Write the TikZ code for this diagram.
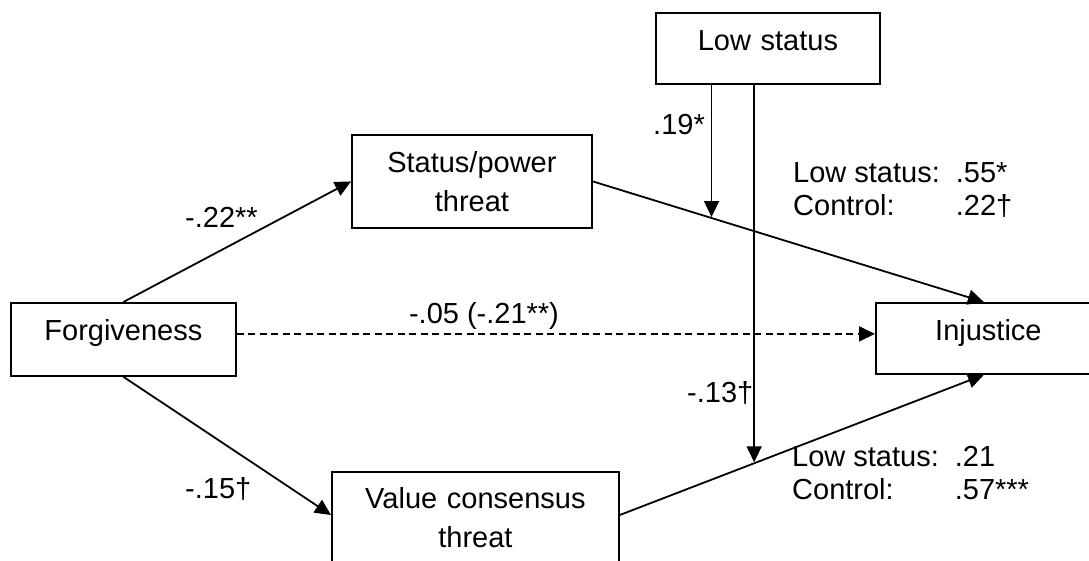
\documentclass[tikz,border=0pt]{standalone}
\usepackage{fontspec}
\setmainfont{Liberation Sans}
\usetikzlibrary{arrows.meta,calc}
\begin{document}
\begin{tikzpicture}[x=1pt,y=-1pt,
  font=\fontsize{29}{39}\selectfont,
  box/.style={draw, line width=1.8pt, inner sep=0pt, align=center, anchor=north west},
  arr/.style={line width=1.8pt, -{Triangle[length=16pt,width=15pt]}},
  dashline/.style={line width=1.8pt, dash pattern=on 7pt off 4.5pt},
  lbl/.style={anchor=base west, inner sep=0pt},
  tab/.style={anchor=base west, inner sep=0pt, font=\fontsize{29}{33}\selectfont}]
\useasboundingbox (0,0) rectangle (1089,561);

\node[box, text width=224pt, text height=38pt, text depth=33pt] (low) at (655,12) {Low status};
\node[box, text width=240pt, text height=38pt, text depth=55pt] (stat) at (351,134) {Status/power\\threat};
\node[box, text width=225pt, text height=38pt, text depth=35pt] (forg) at (10,302) {Forgiveness};
\node[box, text width=225pt, text height=38pt, text depth=33pt] (inj) at (875,302) {Injustice};
\node[box, text width=287pt, text height=37pt, text depth=120pt] (val) at (331,471) {Value consensus\\threat};

\coordinate (valout) at ([yshift=-44pt]val.north east);
\coordinate (valin) at ([yshift=-44pt]val.north west);
\coordinate (injtop) at ([xshift=-4.5pt]inj.north);
\coordinate (injbot) at ([xshift=-4.5pt]inj.south);

\draw[arr] (forg.north) -- (stat.west);
\draw[arr] (forg.south) -- (valin);
\draw[arr] (stat.east) -- (injtop);
\draw[arr] (valout) -- (injbot);
\draw[dashline, -{Triangle[length=16pt,width=15pt]}] ([yshift=5.5pt]forg.east) -- ([yshift=4.5pt]inj.west);

\coordinate (m1) at ($(stat.east)!0.3036!(injtop)$);
\coordinate (m2) at ($(valout)!0.369!(injbot)$);
\draw[arr] (low.south -| m1) -- ([yshift=1pt]m1);
\draw[arr] (low.south -| m2) -- ([yshift=1pt]m2);

\node[lbl] (l22) at (185,228) {-.22**};
\node[lbl] (l15) at (185,498) {-.15†};
\node[lbl] (l19) at (653,135) {.19*};
\node[lbl] (l13) at (687,402) {-.13†};
\node[anchor=base, inner sep=0pt] (l05) at (484,323) {-.05 (-.21**)};
\node[tab] (top) at (793,199) {\begin{tabular}{@{}l@{\hspace{16pt}}l@{}}Low status: & .55*\\ Control: & .22†\end{tabular}};
\node[tab] (bot) at (792,483) {\begin{tabular}{@{}l@{\hspace{16pt}}l@{}}Low status: & .21\\ Control: & .57***\end{tabular}};
\end{tikzpicture}
\end{document}
